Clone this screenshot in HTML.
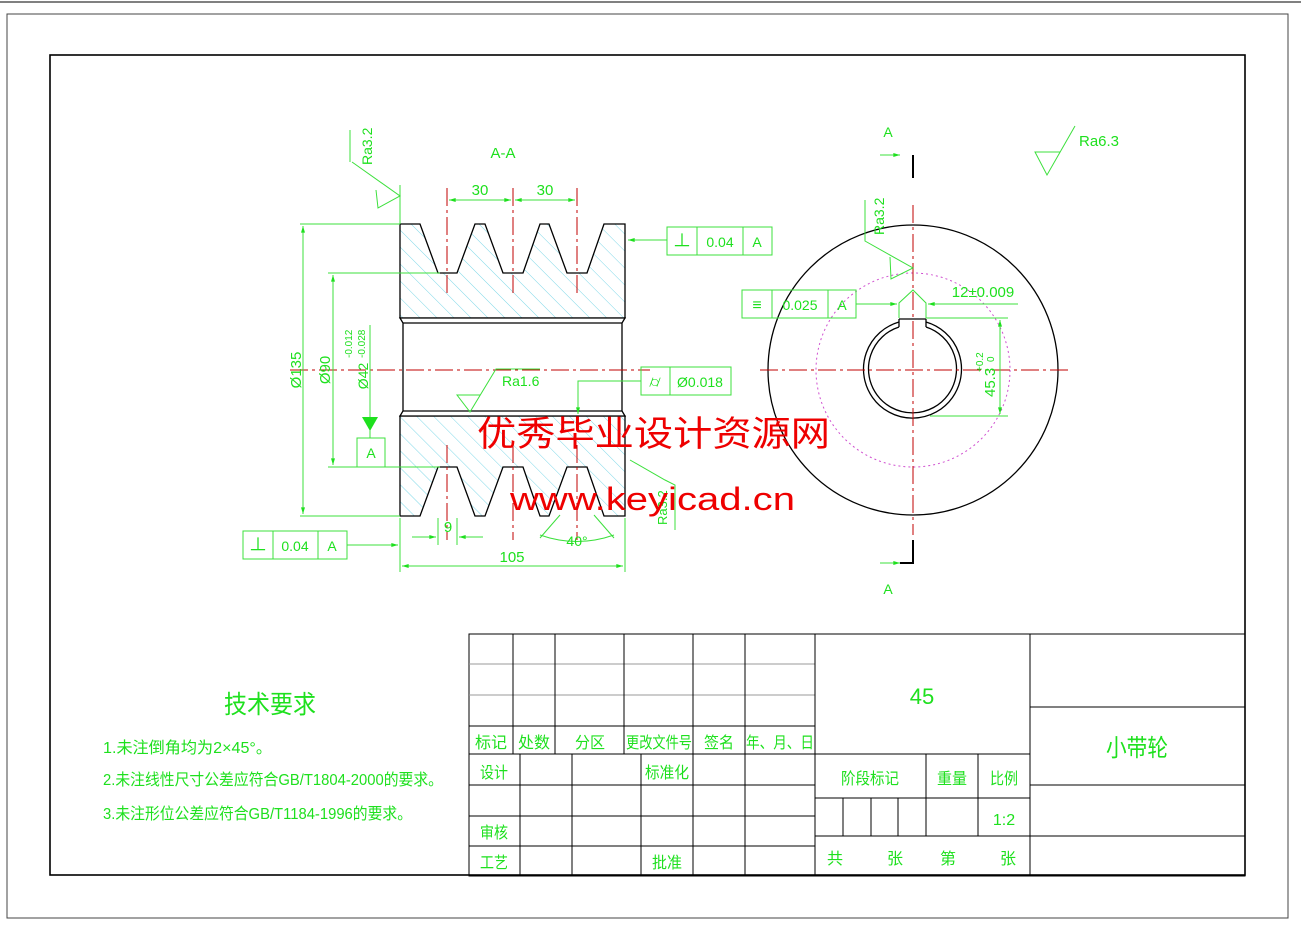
<!DOCTYPE html>
<html><head><meta charset="utf-8"><style>
html,body{margin:0;padding:0;background:#fff;}
svg{display:block;}
text{font-family:"Liberation Sans","Noto Sans CJK SC",sans-serif;}
.g{fill:#1ee01e;}
.gs{stroke:#3ce03c;stroke-width:1;fill:none;}
.k{stroke:#000;stroke-width:1.3;fill:none;}
.r{stroke:#c00000;stroke-width:1;stroke-dasharray:18,4,3,4;fill:none;}
.t{stroke:#000;stroke-width:1;fill:none;}
.tl{stroke:#999;stroke-width:1;fill:none;}
</style></head><body>
<svg width="1301" height="925" viewBox="0 0 1301 925" xmlns="http://www.w3.org/2000/svg">
<defs>
<pattern id="h" width="12" height="12" patternUnits="userSpaceOnUse" patternTransform="rotate(-45)">
<line x1="0" y1="0" x2="0" y2="12" stroke="#7fd8e8" stroke-width="1"/>
</pattern>
<marker id="a" viewBox="0 0 10 6" refX="10" refY="3" markerWidth="10" markerHeight="4" orient="auto-start-reverse" markerUnits="userSpaceOnUse"><path d="M0,0L10,3L0,6z" fill="#1ee01e"/></marker>
</defs>
<line x1="0" y1="2" x2="1301" y2="2" stroke="#000"/>
<rect x="7" y="14" width="1281" height="904" fill="none" stroke="#444" stroke-width="1"/>
<rect x="50" y="55" width="1195" height="820" fill="none" stroke="#000" stroke-width="1.6"/>

<polygon points="400,224 420,224 438,273 457,273 475,224 485,224 503,273 523,273 540,224 549,224 567,273 587,273 604,224 625,224 625,318 400,318" style="fill:url(#h);stroke:#000;stroke-width:1.3"/>
<polygon points="400,416 625,416 625,516 604,516 587,467 567,467 549,516 540,516 523,467 503,467 485,516 475,516 457,467 438,467 420,516 400,516" style="fill:url(#h);stroke:#000;stroke-width:1.3"/>
<polygon points="400,318 625,318 622,323 622,411 625,416 400,416 403,411 403,323" style="fill:#fff;stroke:#000;stroke-width:1.3"/>
<line x1="403" y1="323" x2="622" y2="323" class="k"/>
<line x1="403" y1="411" x2="622" y2="411" class="k"/>
<line x1="290" y1="370" x2="650" y2="370" class="r"/>
<line x1="447" y1="188" x2="447" y2="295" class="r"/><line x1="513" y1="188" x2="513" y2="295" class="r"/><line x1="577" y1="188" x2="577" y2="295" class="r"/>
<line x1="447" y1="445" x2="447" y2="540" class="r"/><line x1="513" y1="445" x2="513" y2="540" class="r"/><line x1="577" y1="445" x2="577" y2="540" class="r"/>

<text x="503" y="158" class="g" font-size="15" text-anchor="middle">A-A</text>
<line x1="300" y1="224" x2="400" y2="224" class="gs"/><line x1="300" y1="516" x2="400" y2="516" class="gs"/>
<line x1="303" y1="226" x2="303" y2="514" class="gs" marker-start="url(#a)" marker-end="url(#a)"/>
<text transform="translate(301,370) rotate(-90)" class="g" font-size="15" text-anchor="middle">Ø135</text>
<line x1="328" y1="273" x2="440" y2="273" class="gs"/><line x1="328" y1="467" x2="440" y2="467" class="gs"/>
<line x1="333" y1="275" x2="333" y2="465" class="gs" marker-start="url(#a)" marker-end="url(#a)"/>
<text transform="translate(330,370) rotate(-90)" class="g" font-size="15" text-anchor="middle">Ø90</text>
<line x1="370" y1="325" x2="370" y2="418" class="gs"/>
<polygon points="362,417 378,417 370,431" class="g"/>
<rect x="357" y="438" width="28" height="29" class="gs"/><line x1="370" y1="430" x2="370" y2="438" class="gs"/>
<text x="371" y="458" class="g" font-size="14" text-anchor="middle">A</text>
<text transform="translate(368,376) rotate(-90)" class="g" font-size="14" text-anchor="middle">Ø42</text>
<text transform="translate(352,358) rotate(-90)" class="g" font-size="10">-0.012</text>
<text transform="translate(365,358) rotate(-90)" class="g" font-size="10">-0.028</text>
<line x1="449" y1="200" x2="511" y2="200" class="gs" marker-start="url(#a)" marker-end="url(#a)"/>
<line x1="515" y1="200" x2="575" y2="200" class="gs" marker-start="url(#a)" marker-end="url(#a)"/>
<text x="480" y="195" class="g" font-size="15" text-anchor="middle">30</text>
<text x="545" y="195" class="g" font-size="15" text-anchor="middle">30</text>
<line x1="400" y1="185" x2="400" y2="224" class="gs"/>
<polyline points="352,162 400,196 378,208 376,190" class="gs"/>
<text transform="translate(372,165) rotate(-90)" class="g" font-size="14">Ra3.2</text>
<line x1="350" y1="130" x2="350" y2="162" class="gs"/>
<rect x="667" y="227" width="105" height="28" class="gs"/><line x1="697" y1="227" x2="697" y2="255" class="gs"/><line x1="743" y1="227" x2="743" y2="255" class="gs"/>
<text x="682" y="247" class="g" font-size="18" text-anchor="middle">⊥</text>
<text x="720" y="247" class="g" font-size="14" text-anchor="middle">0.04</text>
<text x="757" y="247" class="g" font-size="14" text-anchor="middle">A</text>
<line x1="667" y1="240" x2="628" y2="240" class="gs" marker-end="url(#a)"/>
<rect x="243" y="531" width="104" height="28" class="gs"/><line x1="273" y1="531" x2="273" y2="559" class="gs"/><line x1="318" y1="531" x2="318" y2="559" class="gs"/>
<text x="258" y="551" class="g" font-size="18" text-anchor="middle">⊥</text>
<text x="295" y="551" class="g" font-size="14" text-anchor="middle">0.04</text>
<text x="332" y="551" class="g" font-size="14" text-anchor="middle">A</text>
<line x1="347" y1="545" x2="398" y2="545" class="gs" marker-end="url(#a)"/>
<rect x="641" y="367" width="90" height="28" class="gs"/><line x1="670" y1="367" x2="670" y2="395" class="gs"/>
<text x="655" y="387" class="g" font-size="16" text-anchor="middle">⌭</text>
<text x="700" y="387" class="g" font-size="14" text-anchor="middle">Ø0.018</text>
<polyline points="641,381 578,381 578,414" class="gs" marker-end="url(#a)"/>
<polyline points="540,369 496,369 470,412 457,395 480,395" class="gs"/>
<text x="502" y="386" class="g" font-size="14">Ra1.6</text>
<line x1="438" y1="518" x2="438" y2="545" class="gs"/><line x1="457" y1="518" x2="457" y2="545" class="gs"/>
<line x1="412" y1="537" x2="436" y2="537" class="gs" marker-end="url(#a)"/><line x1="483" y1="537" x2="459" y2="537" class="gs" marker-end="url(#a)"/>
<text x="448" y="532" class="g" font-size="15" text-anchor="middle">9</text>
<path d="M540,535 Q577,548 614,535" class="gs"/>
<line x1="560" y1="515" x2="540" y2="538" class="gs"/><line x1="594" y1="515" x2="614" y2="538" class="gs"/>
<text x="577" y="546" class="g" font-size="14" text-anchor="middle">40°</text>
<line x1="400" y1="518" x2="400" y2="572" class="gs"/><line x1="625" y1="518" x2="625" y2="572" class="gs"/>
<line x1="402" y1="566" x2="623" y2="566" class="gs" marker-start="url(#a)" marker-end="url(#a)"/>
<text x="512" y="562" class="g" font-size="15" text-anchor="middle">105</text>
<polyline points="630,460 665,480 675,485 675,530" class="gs"/>
<text transform="translate(667,525) rotate(-90)" class="g" font-size="13">Ra3.2</text>

<circle cx="913" cy="370" r="145" class="k"/>
<circle cx="913" cy="370" r="97" fill="none" stroke="#d050d0" stroke-width="1" stroke-dasharray="2,3"/>
<path d="M899,322 A49,49 0 1 0 926,322" class="k"/>
<path d="M899,327 A44,44 0 1 0 926,327" class="k"/>
<path d="M899,322 L899,327 M926,322 L926,327 M899,319 L926,319" class="k"/>
<line x1="899" y1="319" x2="899" y2="322" class="k"/><line x1="926" y1="319" x2="926" y2="322" class="k"/>
<line x1="760" y1="370" x2="1070" y2="370" class="r"/>
<line x1="913" y1="205" x2="913" y2="535" class="r"/>
<text x="888" y="137" class="g" font-size="14" text-anchor="middle">A</text>
<text x="888" y="594" class="g" font-size="14" text-anchor="middle">A</text>
<line x1="880" y1="155" x2="900" y2="155" class="gs" marker-end="url(#a)"/>
<line x1="913" y1="155" x2="913" y2="178" stroke="#000" stroke-width="2"/>
<line x1="880" y1="563" x2="900" y2="563" class="gs" marker-end="url(#a)"/>
<polyline points="913,540 913,563 900,563" stroke="#000" stroke-width="2" fill="none"/>
<polyline points="1075,126 1047,175 1035,152 1060,152" class="gs"/>
<text x="1079" y="146" class="g" font-size="15">Ra6.3</text>
<polyline points="865,200 865,241 913,268 891,279 890,257" class="gs"/>
<text transform="translate(884,235) rotate(-90)" class="g" font-size="14">Ra3.2</text>
<rect x="742" y="290" width="114" height="28" class="gs"/><line x1="772" y1="290" x2="772" y2="318" class="gs"/><line x1="828" y1="290" x2="828" y2="318" class="gs"/>
<text x="757" y="310" class="g" font-size="16" text-anchor="middle">≡</text>
<text x="800" y="310" class="g" font-size="14" text-anchor="middle">0.025</text>
<text x="842" y="310" class="g" font-size="14" text-anchor="middle">A</text>
<line x1="856" y1="304" x2="897" y2="304" class="gs" marker-end="url(#a)"/>
<line x1="1018" y1="304" x2="928" y2="304" class="gs" marker-end="url(#a)"/>
<polyline points="899,318 899,303 913,290 926,303 926,318" class="gs"/>
<text x="983" y="297" class="g" font-size="15" text-anchor="middle">12±0.009</text>
<line x1="926" y1="318" x2="1008" y2="318" class="gs"/><line x1="930" y1="416" x2="1008" y2="416" class="gs"/>
<line x1="1000" y1="320" x2="1000" y2="414" class="gs" marker-start="url(#a)" marker-end="url(#a)"/>
<text transform="translate(995,397) rotate(-90)" class="g" font-size="15">45.3</text>
<text transform="translate(983,372) rotate(-90)" class="g" font-size="10">+0.2</text>
<text transform="translate(994,362) rotate(-90)" class="g" font-size="10">0</text>

<text x="477" y="446" fill="#ee0000" font-size="35" font-family="'Noto Serif CJK SC','Liberation Serif',serif" textLength="353" lengthAdjust="spacingAndGlyphs">优秀毕业设计资源网</text>
<text x="510" y="510" fill="#ee0000" font-size="32" font-family="'Liberation Serif',serif" textLength="285" lengthAdjust="spacingAndGlyphs">www.keyicad.cn</text>

<text x="270" y="713" class="g" font-size="25" text-anchor="middle" textLength="92" lengthAdjust="spacingAndGlyphs">技术要求</text>
<text x="103" y="753" class="g" font-size="16" textLength="169" lengthAdjust="spacingAndGlyphs">1.未注倒角均为2×45°。</text>
<text x="103" y="785" class="g" font-size="16" textLength="340" lengthAdjust="spacingAndGlyphs">2.未注线性尺寸公差应符合GB/T1804-2000的要求。</text>
<text x="103" y="819" class="g" font-size="16" textLength="309" lengthAdjust="spacingAndGlyphs">3.未注形位公差应符合GB/T1184-1996的要求。</text>

<g>
<rect x="469" y="634" width="776" height="242" class="t" stroke-width="1.5"/>
<line x1="469" y1="664" x2="815" y2="664" class="tl"/>
<line x1="469" y1="695" x2="815" y2="695" class="tl"/>
<line x1="469" y1="726" x2="815" y2="726" class="t"/>
<line x1="469" y1="754" x2="1030" y2="754" class="t" stroke-width="1.4"/>
<line x1="469" y1="785" x2="815" y2="785" class="t"/>
<line x1="469" y1="816" x2="815" y2="816" class="t"/>
<line x1="469" y1="846" x2="815" y2="846" class="t"/>
<line x1="513" y1="634" x2="513" y2="754" class="t"/>
<line x1="555" y1="634" x2="555" y2="754" class="t"/>
<line x1="624" y1="634" x2="624" y2="754" class="t"/>
<line x1="693" y1="634" x2="693" y2="754" class="t"/>
<line x1="745" y1="634" x2="745" y2="876" class="t"/>
<line x1="520" y1="754" x2="520" y2="876" class="t"/>
<line x1="572" y1="754" x2="572" y2="876" class="t"/>
<line x1="641" y1="754" x2="641" y2="876" class="t"/>
<line x1="693" y1="754" x2="693" y2="876" class="t"/>
<line x1="815" y1="634" x2="815" y2="876" class="t" stroke-width="1.4"/>
<line x1="1030" y1="634" x2="1030" y2="876" class="t" stroke-width="1.4"/>
<line x1="815" y1="798" x2="1030" y2="798" class="t"/>
<line x1="815" y1="836" x2="1245" y2="836" class="t"/>
<line x1="926" y1="754" x2="926" y2="836" class="t"/>
<line x1="978" y1="754" x2="978" y2="836" class="t"/>
<line x1="843" y1="798" x2="843" y2="836" class="t"/>
<line x1="871" y1="798" x2="871" y2="836" class="t"/>
<line x1="898" y1="798" x2="898" y2="836" class="t"/>
<line x1="1030" y1="707" x2="1245" y2="707" class="t"/>
<line x1="1030" y1="785" x2="1245" y2="785" class="t"/>
</g>
<g class="g" font-size="16">
<text x="491" y="748" text-anchor="middle" textLength="32" lengthAdjust="spacingAndGlyphs">标记</text>
<text x="534" y="748" text-anchor="middle" textLength="32" lengthAdjust="spacingAndGlyphs">处数</text>
<text x="590" y="748" text-anchor="middle" textLength="30" lengthAdjust="spacingAndGlyphs">分区</text>
<text x="659" y="748" text-anchor="middle" textLength="66" lengthAdjust="spacingAndGlyphs">更改文件号</text>
<text x="719" y="748" text-anchor="middle" textLength="30" lengthAdjust="spacingAndGlyphs">签名</text>
<text x="780" y="748" text-anchor="middle" textLength="68" lengthAdjust="spacingAndGlyphs">年、月、日</text>
<text x="494" y="778" text-anchor="middle" textLength="28" lengthAdjust="spacingAndGlyphs">设计</text>
<text x="667" y="778" text-anchor="middle" textLength="44" lengthAdjust="spacingAndGlyphs">标准化</text>
<text x="494" y="838" text-anchor="middle" textLength="28" lengthAdjust="spacingAndGlyphs">审核</text>
<text x="494" y="868" text-anchor="middle" textLength="28" lengthAdjust="spacingAndGlyphs">工艺</text>
<text x="667" y="868" text-anchor="middle" textLength="30" lengthAdjust="spacingAndGlyphs">批准</text>
<text x="870" y="784" text-anchor="middle" textLength="58" lengthAdjust="spacingAndGlyphs">阶段标记</text>
<text x="952" y="784" text-anchor="middle" textLength="30" lengthAdjust="spacingAndGlyphs">重量</text>
<text x="1004" y="784" text-anchor="middle" textLength="28" lengthAdjust="spacingAndGlyphs">比例</text>
<text x="1004" y="825" text-anchor="middle">1:2</text>
<text x="835" y="864" text-anchor="middle">共</text>
<text x="895" y="864" text-anchor="middle">张</text>
<text x="948" y="864" text-anchor="middle">第</text>
<text x="1008" y="864" text-anchor="middle">张</text>
<text x="922" y="704" text-anchor="middle" font-size="22">45</text>
<text x="1137" y="756" text-anchor="middle" font-size="24" textLength="62" lengthAdjust="spacingAndGlyphs">小带轮</text>
</g>
</svg>
</body></html>
